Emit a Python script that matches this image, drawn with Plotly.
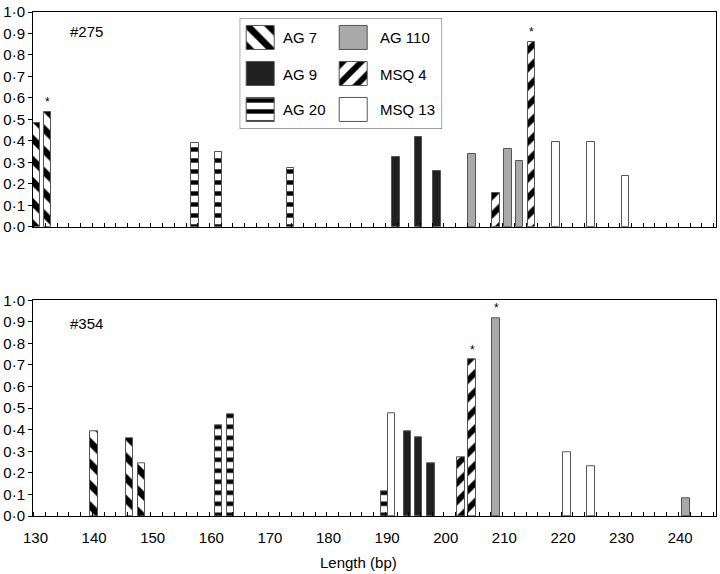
import plotly.graph_objects as go

# ---------------- data ----------------
series_names = ["AG 7", "AG 9", "AG 20", "AG 110", "MSQ 4", "MSQ 13"]

# panel #275
t_ag7_x = [130.1, 132.1]
t_ag7_y = [0.483, 0.532]
t_ag9_x = [191.5, 195.4, 198.5]
t_ag9_y = [0.327, 0.420, 0.258]
t_ag20_x = [157.2, 161.2, 173.5]
t_ag20_y = [0.390, 0.347, 0.275]
t_ag110_x = [204.5, 210.6, 212.6]
t_ag110_y = [0.341, 0.364, 0.306]
t_msq4_x = [208.6, 214.6]
t_msq4_y = [0.159, 0.860]
t_msq13_x = [218.8, 224.8, 230.7]
t_msq13_y = [0.395, 0.395, 0.236]
t_star_x = [132.1, 214.6]

# panel #354
b_ag7_x = [140.0, 146.1, 148.1]
b_ag7_y = [0.393, 0.361, 0.243]
b_ag9_x = [193.5, 195.4, 197.5]
b_ag9_y = [0.393, 0.363, 0.246]
b_ag20_x = [161.2, 163.3, 189.5]
b_ag20_y = [0.419, 0.470, 0.115]
b_ag110_x = [208.6, 241.0]
b_ag110_y = [0.917, 0.084]
b_msq4_x = [202.6, 204.5]
b_msq4_y = [0.273, 0.725]
b_msq13_x = [190.7, 220.7, 224.8]
b_msq13_y = [0.476, 0.296, 0.229]
b_star_x = [204.5, 208.6]

panel_labels = ["#275", "#354"]
y_tick_vals = [0.0, 0.1, 0.2, 0.3, 0.4, 0.5, 0.6, 0.7, 0.8, 0.9, 1.0]
y_tick_text = ["0·0", "0·1", "0·2", "0·3", "0·4", "0·5", "0·6", "0·7", "0·8", "0·9", "1·0"]
x_title = "Length (bp)"

# ---------------- styles ----------------
FONT = "Liberation Sans, Arial, Helvetica, sans-serif"
OUTLINE = "#555555"
styles = {
    "AG 7": dict(color="white", pattern=dict(shape="\\", fgcolor="black", bgcolor="white", fgopacity=1,
                                              size=15, solidity=0.45)),
    "AG 9": dict(color="#202020", pattern=None),
    "AG 20": dict(color="white", pattern=dict(shape="-", fgcolor="black", bgcolor="white", fgopacity=1,
                                               size=11, solidity=0.4)),
    "AG 110": dict(color="#a9a9a9", pattern=None),
    "MSQ 4": dict(color="white", pattern=dict(shape="/", fgcolor="black", bgcolor="white", fgopacity=1,
                                               size=13, solidity=0.45)),
    "MSQ 13": dict(color="white", pattern=None),
}

def marker_for(name):
    st = styles[name]
    m = dict(color=st["color"], line=dict(color=OUTLINE, width=1))
    if st["pattern"] is not None:
        m["pattern"] = st["pattern"]
    return m

top_data = {
    "AG 7": (t_ag7_x, t_ag7_y), "AG 9": (t_ag9_x, t_ag9_y), "AG 20": (t_ag20_x, t_ag20_y),
    "AG 110": (t_ag110_x, t_ag110_y), "MSQ 4": (t_msq4_x, t_msq4_y), "MSQ 13": (t_msq13_x, t_msq13_y),
}
bot_data = {
    "AG 7": (b_ag7_x, b_ag7_y), "AG 9": (b_ag9_x, b_ag9_y), "AG 20": (b_ag20_x, b_ag20_y),
    "AG 110": (b_ag110_x, b_ag110_y), "MSQ 4": (b_msq4_x, b_msq4_y), "MSQ 13": (b_msq13_x, b_msq13_y),
}

BAR_W = 1.25
fig = go.Figure()

for data, xa, ya in [(top_data, "x", "y"), (bot_data, "x2", "y2")]:
    for name in series_names:
        xs, ys = data[name]
        fig.add_trace(go.Bar(x=xs, y=ys, width=[BAR_W] * len(xs), marker=marker_for(name),
                             xaxis=xa, yaxis=ya, showlegend=False, name=name))

# stars
annotations = []
def star_y(data, sx):
    for name in series_names:
        xs, ys = data[name]
        for xv, yv in zip(xs, ys):
            if xv == sx:
                return yv
    return 0
for data, stars, xr, yr in [(top_data, t_star_x, "x", "y"), (bot_data, b_star_x, "x2", "y2")]:
    for sx in stars:
        annotations.append(dict(x=sx, y=star_y(data, sx), xref=xr, yref=yr, text="*", showarrow=False,
                                yanchor="bottom", yshift=1, font=dict(family=FONT, size=12, color="black")))

# ---------------- layout geometry ----------------
W, H = 720, 574
ML, MR, MT, MB = 33, 3, 9, 58
PW, PH = W - ML - MR, H - MT - MB
def px_x(p):
    return (p - ML) / PW
def px_y(p):
    return (H - MB - p) / PH

X_RANGE = [129.58, 246.11]

axis_common = dict(showgrid=False, zeroline=False, showline=True, linecolor="black", linewidth=1, mirror=True)
xaxis_common = dict(axis_common, range=X_RANGE, tickmode="linear", tick0=130, dtick=10, ticks="",
                    minor=dict(ticks="inside", ticklen=4, tickcolor="black", tick0=129.7, dtick=2, showgrid=False),
                    tickfont=dict(family=FONT, size=15, color="black"))
yaxis_common = dict(axis_common, range=[0, 1], tickmode="array", tickvals=y_tick_vals, ticktext=y_tick_text,
                    ticks="outside", ticklen=4, tickcolor="black",
                    tickfont=dict(family=FONT, size=15, color="black"))

fig.update_layout(
    width=W, height=H,
    margin=dict(l=ML, r=MR, t=MT, b=MB),
    paper_bgcolor="white", plot_bgcolor="white",
    barmode="overlay", bargap=0,
    font=dict(family=FONT, size=15, color="black"),
    xaxis=dict(xaxis_common, anchor="y", showticklabels=False, domain=[0, 1]),
    yaxis=dict(yaxis_common, anchor="x", domain=[px_y(225), 1]),
    xaxis2=dict(xaxis_common, anchor="y2", showticklabels=True, domain=[0, 1], ticklabelstandoff=8),
    yaxis2=dict(yaxis_common, anchor="x2", domain=[0, px_y(299)]),
)

# panel labels and axis title
annotations.append(dict(x=px_x(68), y=px_y(29), xref="paper", yref="paper", text=panel_labels[0],
                        showarrow=False, xanchor="left", yanchor="middle", font=dict(family=FONT, size=15)))
annotations.append(dict(x=px_x(68), y=px_y(322.7), xref="paper", yref="paper", text=panel_labels[1],
                        showarrow=False, xanchor="left", yanchor="middle", font=dict(family=FONT, size=15)))
annotations.append(dict(x=px_x(359), y=px_y(563), xref="paper", yref="paper", text=x_title,
                        showarrow=False, xanchor="center", yanchor="middle", font=dict(family=FONT, size=15)))

# ---------------- custom legend (overlay axes) ----------------
LG_L, LG_R, LG_T, LG_B = 240, 442.7, 15, 126.7
lg_w, lg_h = LG_R - LG_L, LG_B - LG_T
fig.update_layout(
    xaxis3=dict(domain=[px_x(LG_L), px_x(LG_R)], range=[0, lg_w], anchor="y3", visible=False, fixedrange=True),
    yaxis3=dict(domain=[px_y(LG_B), px_y(LG_T)], range=[lg_h, 0], anchor="x3", visible=False, fixedrange=True),
)
fig.add_shape(type="rect", xref="x3", yref="y3", x0=0, x1=lg_w, y0=0, y1=lg_h,
              line=dict(color="#444444", width=1), fillcolor="white", layer="below")

SW_W, SW_H = 27.7, 24.5
col_sw_x = [21.2, 113.9]
col_txt_x = [41.7, 138.3]
row_c = [20.0, 56.5, 92.5]
for i, name in enumerate(series_names):
    col, row = divmod(i, 3)
    fig.add_trace(go.Bar(x=[col_sw_x[col]], y=[SW_H], base=[row_c[row] - SW_H / 2], width=[SW_W],
                         marker=marker_for(name), xaxis="x3", yaxis="y3", showlegend=False, hoverinfo="skip"))
    annotations.append(dict(x=col_txt_x[col], y=row_c[row], xref="x3", yref="y3", text=name, showarrow=False,
                            xanchor="left", yanchor="middle", font=dict(family=FONT, size=15, color="black")))

fig.update_layout(annotations=annotations)
fig.write_html("out.html", config={"displayModeBar": False},
               post_script="document.body.style.margin='0';document.body.style.padding='0';")
